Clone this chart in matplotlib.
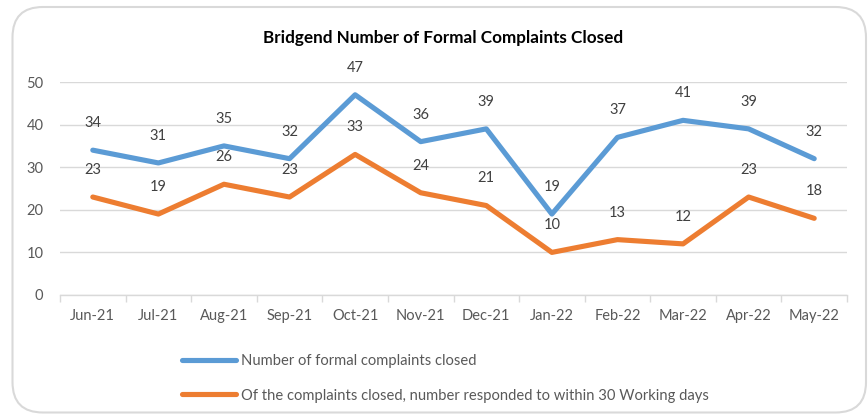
import matplotlib
matplotlib.use("Agg")
import matplotlib.pyplot as plt
from matplotlib.patches import FancyBboxPatch

months = ["Jun-21", "Jul-21", "Aug-21", "Sep-21", "Oct-21", "Nov-21",
          "Dec-21", "Jan-22", "Feb-22", "Mar-22", "Apr-22", "May-22"]
closed = [34, 31, 35, 32, 47, 36, 39, 19, 37, 41, 39, 32]
within30 = [23, 19, 26, 23, 33, 24, 21, 10, 13, 12, 23, 18]
series_names = ["Number of formal complaints closed",
                "Of the complaints closed, number responded to within 30 Working days"]
title = "Bridgend Number of Formal Complaints Closed"

plt.rcParams['font.family'] = ['Lato', 'DejaVu Sans']
txt = '#595959'
blue = '#5B9BD5'
orange = '#ED7D31'

fig = plt.figure(figsize=(8.68, 4.19), dpi=100)
W, H = 868, 419

# outer rounded border
border = FancyBboxPatch((12.5 / W, 6.5 / H), (866 - 12.5) / W, (412 - 6.5) / H,
                        boxstyle="round,pad=0,rounding_size=0.035",
                        transform=fig.transFigure, facecolor='none',
                        edgecolor='#d9d9d9', linewidth=1.5, mutation_aspect=W / H,
                        zorder=-1, clip_on=False)
fig.patches.append(border)

ax = fig.add_axes([60 / W, 1 - 295 / H, (847 - 60) / W, (295 - 82) / H])
ax.set_facecolor('none')
x = list(range(len(months)))
l1, = ax.plot(x, closed, color=blue, lw=3.7, solid_capstyle='round', solid_joinstyle='round', zorder=3)
l2, = ax.plot(x, within30, color=orange, lw=3.7, solid_capstyle='round', solid_joinstyle='round', zorder=3)

for xs, ys in ((x, closed), (x, within30)):
    for xi, yi in zip(xs, ys):
        ax.annotate(str(yi), (xi, yi), xytext=(0, 19.5), textcoords='offset points',
                    ha='center', va='center', fontsize=10.5, color='#404040', zorder=4)

ax.set_xlim(-0.5, len(months) - 0.5)
ax.set_ylim(0, 50)
ax.set_yticks(range(0, 51, 10))
ax.set_xticks(x)
ax.set_xticklabels(months)
ax.set_xticks([i - 0.5 for i in range(len(months) + 1)], minor=True)
ax.tick_params(axis='x', which='major', length=0, pad=10, labelsize=10.5, labelcolor=txt)
ax.tick_params(axis='x', which='minor', length=5, color='#d9d9d9', width=1)
ax.tick_params(axis='y', length=0, pad=12, labelsize=10.5, labelcolor=txt)
ax.grid(axis='y', color='#d9d9d9', lw=1)
ax.set_axisbelow(True)
for s in ['left', 'right', 'top']:
    ax.spines[s].set_visible(False)
ax.spines['bottom'].set_color('#d9d9d9')
ax.spines['bottom'].set_linewidth(1)

fig.text(443 / W, 1 - 38 / H, title, ha='center', va='center', fontsize=12.3,
         fontweight='bold', color='black')

fig.legend([l1, l2], series_names, loc='upper left',
           bbox_to_anchor=(182 / W, 1 - 354 / H), frameon=False, fontsize=10.6,
           labelcolor=txt, handlelength=3.7, handletextpad=0.3, labelspacing=1.4,
           borderpad=0, borderaxespad=0)

fig.savefig('out.png', dpi=100)
